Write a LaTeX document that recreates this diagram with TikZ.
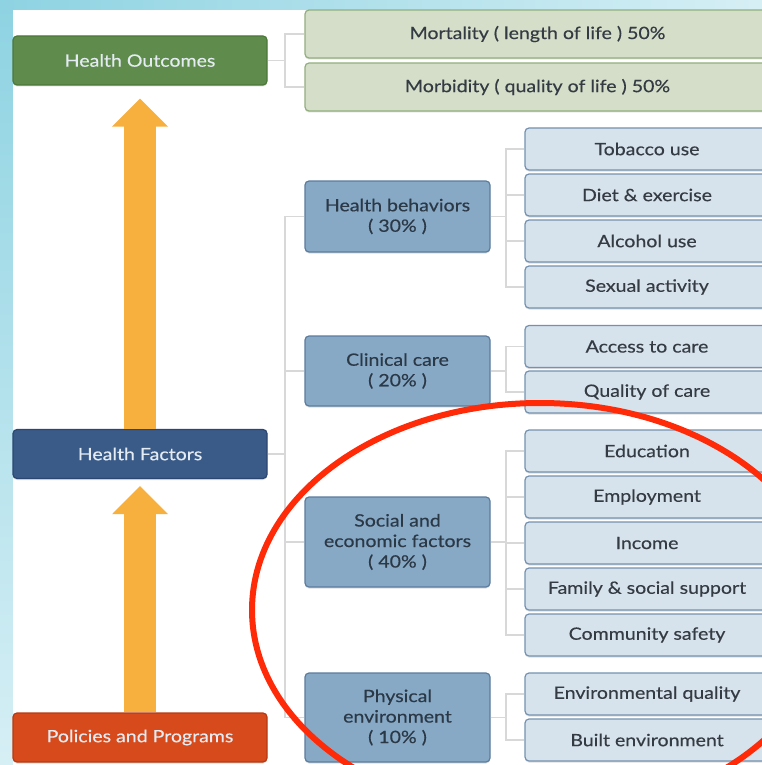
\documentclass[tikz,border=0pt]{standalone}
\usepackage{fontspec}
\setmainfont{Lato}[FakeStretch=1.15, FakeBold=0.35]
\usetikzlibrary{arrows.meta,calc,shadows}
\definecolor{bgcyan}{HTML}{8ED3E2}
\definecolor{bgcyanl}{HTML}{D6EFF5}
\definecolor{outg}{HTML}{5F8B4C}
\definecolor{outgb}{HTML}{4C7839}
\definecolor{lgreen}{HTML}{D4DEC9}
\definecolor{lgreenb}{HTML}{93AF7E}
\definecolor{navy}{HTML}{3A5A88}
\definecolor{navyb}{HTML}{2B4670}
\definecolor{polr}{HTML}{D64A1C}
\definecolor{polrb}{HTML}{B83A12}
\definecolor{arrowc}{HTML}{F7AF3D}
\definecolor{midb}{HTML}{87A9C6}
\definecolor{midbb}{HTML}{5B7C9D}
\definecolor{lblue}{HTML}{D6E2EC}
\definecolor{lblueb}{HTML}{7492B0}
\definecolor{connc}{HTML}{D8D8D8}
\definecolor{darktxt}{HTML}{353B42}
\definecolor{midtxt}{HTML}{2B3846}
\definecolor{lighttxt}{HTML}{E4EBF2}
\definecolor{ovalred}{HTML}{FF2A08}
\tikzset{
  box/.style={rounded corners=4pt, inner sep=0pt, line width=1.2pt, align=center,
    drop shadow={shadow xshift=0pt, shadow yshift=-1.5pt, opacity=0.25}},
  mainbox/.style={box, minimum width=254pt, minimum height=49pt,
    font=\fontsize{17}{20}\selectfont, text=lighttxt},
  outbox/.style={box, fill=lgreen, draw=lgreenb, minimum width=465pt, minimum height=48pt,
    font=\fontsize{17}{20}\selectfont, text=darktxt},
  midbox/.style={box, fill=midb, draw=midbb, minimum width=185pt,
    font=\fontsize{17}{20.5}\selectfont, text=midtxt},
  leafbox/.style={box, fill=lblue, draw=lblueb, minimum width=244pt, minimum height=42pt,
    font=\fontsize{17}{20}\selectfont, text=darktxt},
  conn/.style={draw=connc, line width=1.6pt},
  bigarrow/.style={draw=arrowc, line width=32pt, -{Triangle[width=54pt,length=28pt]}},
}
\begin{document}
\begin{tikzpicture}[x=1pt,y=-1pt]
\useasboundingbox (0,0) rectangle (762,765);
\shade[top color=bgcyan, bottom color=bgcyanl] (0,0) rectangle (13,765);
\shade[left color=bgcyan, right color=bgcyanl] (0,0) rectangle (762,10);
\fill[white] (13,10) rectangle (762,765);

% main column
\node[mainbox, fill=outg, draw=outgb] (HO) at (140,60.5) {Health Outcomes};
\node[mainbox, fill=navy, draw=navyb] (HF) at (140,454) {Health Factors};
\node[mainbox, fill=polr, draw=polrb] (PP) at (140,737.5) {Policies and Programs};

% outcome boxes
\node[outbox] (M1) at (537.5,34) {Mortality ( length of life ) 50\%};
\node[outbox] (M2) at (537.5,87) {Morbidity ( quality of life ) 50\%};

% middle boxes
\node[midbox, minimum height=71pt] (HB) at (397.5,216.5) {Health behaviors\\( 30\% )};
\node[midbox, minimum height=70pt] (CC) at (397.5,371) {Clinical care\\( 20\% )};
\node[midbox, minimum height=90pt] (SE) at (397.5,542) {Social and\\economic factors\\( 40\% )};
\node[midbox, minimum height=89pt] (PE) at (397.5,717.5) {Physical\\environment\\( 10\% )};

% leaf boxes
\node[leafbox] (L1) at (647,149) {Tobacco use};
\node[leafbox] (L2) at (647,195) {Diet \& exercise};
\node[leafbox] (L3) at (647,241) {Alcohol use};
\node[leafbox] (L4) at (647,287) {Sexual activity};
\node[leafbox] (L5) at (647,346.5) {Access to care};
\node[leafbox] (L6) at (647,392) {Quality of care};
\node[leafbox] (L7) at (647,451) {Education};
\node[leafbox] (L8) at (647,497) {Employment};
\node[leafbox] (L9) at (647,543) {Income};
\node[leafbox] (L10) at (647,589) {Family \& social support};
\node[leafbox] (L11) at (647,635) {Community safety};
\node[leafbox] (L12) at (647,694) {Environmental quality};
\node[leafbox] (L13) at (647,740) {Built environment};

% connectors
\coordinate (tA) at (285,0);
\coordinate (tB) at (506,0);
\draw[conn] (HO.east) -- (HO.east -| tA);
\draw[conn] (M1.west) -- (M1.west -| tA) -- (M2.west -| tA) -- (M2.west);

\draw[conn] (HF.east) -- (HF.east -| tA);
\draw[conn] (HB.west) -- (HB.west -| tA) -- (PE.west -| tA) -- (PE.west);
\draw[conn] (CC.west) -- (CC.west -| tA);
\draw[conn] (SE.west) -- (SE.west -| tA);

\draw[conn] (HB.east) -- (HB.east -| tB);
\draw[conn] (L1.west) -- (L1.west -| tB) -- (L4.west -| tB) -- (L4.west);
\draw[conn] (L2.west) -- (L2.west -| tB);
\draw[conn] (L3.west) -- (L3.west -| tB);

\draw[conn] (CC.east) -- (CC.east -| tB);
\draw[conn] (L5.west) -- (L5.west -| tB) -- (L6.west -| tB) -- (L6.west);

\draw[conn] (SE.east) -- (SE.east -| tB);
\draw[conn] (L7.west) -- (L7.west -| tB) -- (L11.west -| tB) -- (L11.west);
\draw[conn] (L8.west) -- (L8.west -| tB);
\draw[conn] (L9.west) -- (L9.west -| tB);
\draw[conn] (L10.west) -- (L10.west -| tB);

\draw[conn] (PE.east) -- (PE.east -| tB);
\draw[conn] (L12.west) -- (L12.west -| tB) -- (L13.west -| tB) -- (L13.west);

% big arrows
\draw[bigarrow] (HF.north) -- ($(HO.south)+(0,13)$);
\draw[bigarrow] (PP.north) -- ($(HF.south)+(0,7)$);

% red oval
\draw[ovalred, line width=6pt] (540,610) ellipse [x radius=288pt, y radius=207pt];
\end{tikzpicture}
\end{document}
